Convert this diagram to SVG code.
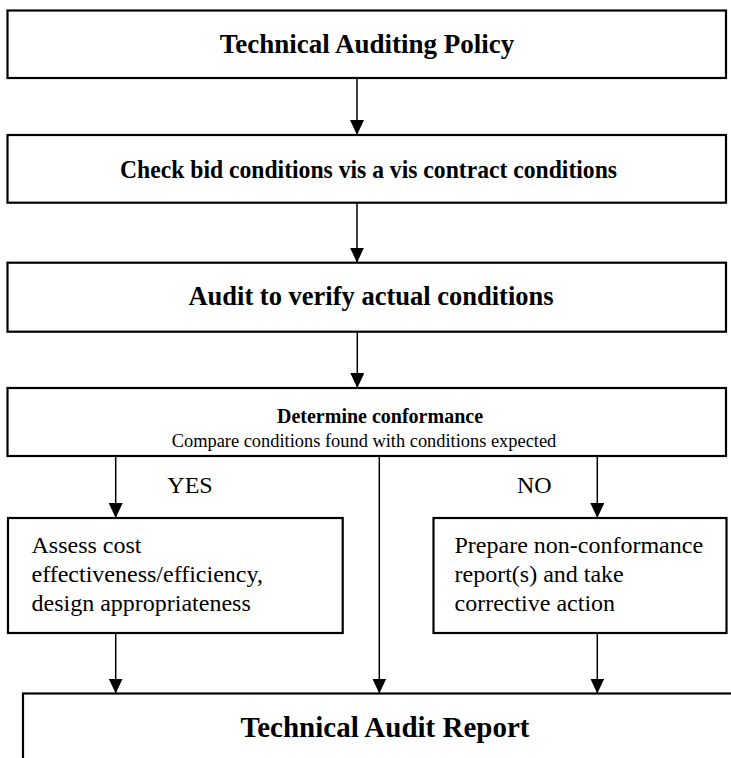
<svg xmlns="http://www.w3.org/2000/svg" width="731" height="758" viewBox="0 0 731 758">
<defs>
<marker id="ah" markerWidth="15" markerHeight="14" refX="15" refY="7" orient="auto" markerUnits="userSpaceOnUse" viewBox="0 0 15 14">
<path d="M0,0 L15,7 L0,14 Z" fill="#000"/>
</marker>
<style>
.box{fill:#fff;stroke:#000;stroke-width:2.2}
.t{font-family:"Liberation Serif","Times New Roman",serif;fill:#000}
.b{font-weight:bold;text-anchor:middle}
.c{stroke:#000;stroke-width:1.5;fill:none}
</style>
</defs>
<rect width="731" height="758" fill="#fff"/>
<g id="n1">
<rect class="box" x="7.5" y="10.5" width="718.5" height="67.5"/>
<text class="t b" x="367" y="53" font-size="27">Technical Auditing Policy</text>
</g>
<g id="n2">
<rect class="box" x="7.5" y="135" width="718.5" height="67.7"/>
<text class="t b" x="368.5" y="177.5" font-size="25.5" textLength="497" lengthAdjust="spacingAndGlyphs">Check bid conditions vis a vis contract conditions</text>
</g>
<g id="n3">
<rect class="box" x="7.5" y="262.7" width="718.5" height="69"/>
<text class="t b" x="371" y="305" font-size="26.5">Audit to verify actual conditions</text>
</g>
<g id="n4">
<rect class="box" x="7.5" y="388" width="718.5" height="68"/>
<text class="t b" x="380" y="423" font-size="20">Determine conformance</text>
<text class="t" x="364" y="447" font-size="18.4" text-anchor="middle">Compare conditions found with conditions expected</text>
</g>
<g id="n5">
<rect class="box" x="8" y="518" width="334.7" height="115"/>
<text class="t" x="31.5" y="553" font-size="24">Assess cost</text>
<text class="t" x="31.5" y="582" font-size="24">effectiveness/efficiency,</text>
<text class="t" x="31.5" y="610.5" font-size="24">design appropriateness</text>
</g>
<g id="n6">
<rect class="box" x="433.5" y="518" width="293" height="115"/>
<text class="t" x="454.5" y="553" font-size="24">Prepare non-conformance</text>
<text class="t" x="454.5" y="582" font-size="24">report(s) and take</text>
<text class="t" x="454.5" y="610.5" font-size="24">corrective action</text>
</g>
<g id="n7">
<rect class="box" x="23" y="693.5" width="740" height="100"/>
<text class="t b" x="385" y="737" font-size="29">Technical Audit Report</text>
</g>
<g id="labels">
<text class="t" x="167.3" y="493" font-size="24">YES</text>
<text class="t" x="517" y="493" font-size="24">NO</text>
</g>
<g id="connectors">
<line class="c" x1="357" y1="78" x2="357" y2="135" marker-end="url(#ah)"/>
<line class="c" x1="357" y1="202.7" x2="357" y2="262.7" marker-end="url(#ah)"/>
<line class="c" x1="357.3" y1="331.7" x2="357.3" y2="388" marker-end="url(#ah)"/>
<line class="c" x1="115.7" y1="456" x2="115.7" y2="518" marker-end="url(#ah)"/>
<line class="c" x1="597.3" y1="456" x2="597.3" y2="518" marker-end="url(#ah)"/>
<line class="c" x1="379.3" y1="456" x2="379.3" y2="693.5" marker-end="url(#ah)"/>
<line class="c" x1="115.7" y1="633" x2="115.7" y2="693.5" marker-end="url(#ah)"/>
<line class="c" x1="597.3" y1="633" x2="597.3" y2="693.5" marker-end="url(#ah)"/>
</g>
</svg>
